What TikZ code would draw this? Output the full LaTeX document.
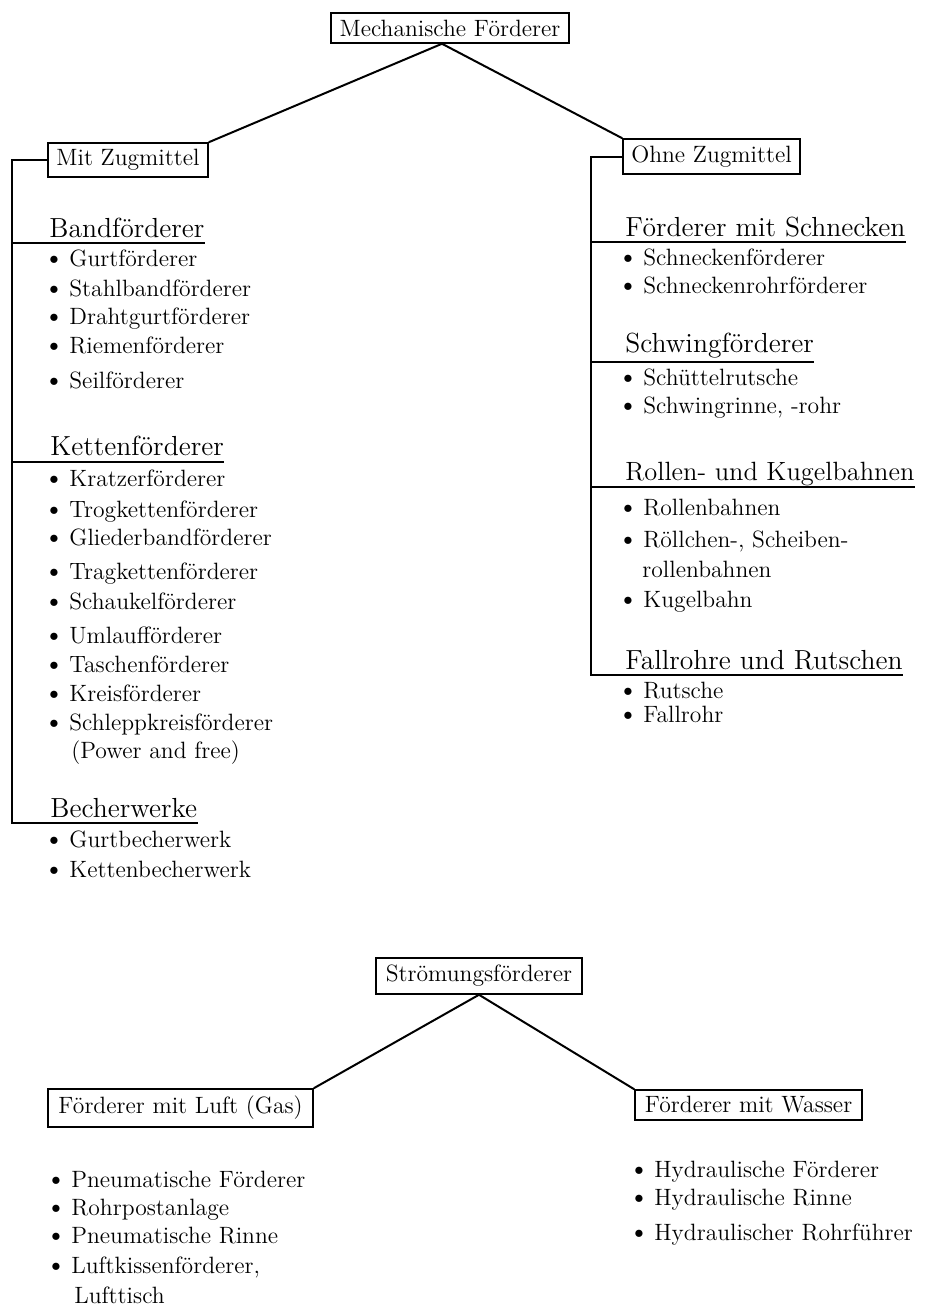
\documentclass[tikz,border=0pt]{standalone}
\usepackage{fontspec}
\usetikzlibrary{calc}
\newcommand{\blt}{\makebox[10pt][l]{\raisebox{0.9pt}{\scalebox{0.78}{$\bullet$}}}}
\begin{document}
\begin{tikzpicture}[x=0.5pt,y=-0.5pt,
  box/.style={draw,line width=0.75pt,inner sep=0pt,font=\fontsize{11.8}{13}\selectfont},
  conn/.style={line width=1pt},
  head/.style={anchor=base west,inner sep=0pt,font=\fontsize{13.8}{16}\selectfont},
  itm/.style={anchor=base west,inner sep=0pt,font=\fontsize{11.8}{13}\selectfont},
]
\useasboundingbox (0,0) rectangle (925,1306);

% ---------- Mechanische Foerderer ----------
\node[box,minimum width=119pt,minimum height=15pt] (mech) at (450,28) {Mechanische Förderer};
\node[box,minimum width=80pt,minimum height=17pt] (mit) at (128,160) {Mit Zugmittel};
\node[box,minimum width=88.5pt,minimum height=17.5pt] (ohne) at (711.5,156.5) {Ohne Zugmittel};
\coordinate (apexM) at ([xshift=-4pt]mech.south);
\draw[conn] (mit.north east) -- (apexM) -- (ohne.north west);

% left column
\node[head] (hband) at (49,237) {Bandförderer};
\coordinate (uband) at (12,243);
\node[itm] (l1) at (49,266) {\blt Gurtförderer};
\node[itm] (l2) at (49,296) {\blt Stahlbandförderer};
\node[itm] (l3) at (49,324) {\blt Drahtgurtförderer};
\node[itm] (l4) at (49,353) {\blt Riemenförderer};
\node[itm] (l5) at (49,388) {\blt Seilförderer};

\node[head] (hkette) at (50,455) {Kettenförderer};
\coordinate (ukette) at (12,462);
\node[itm] (k1) at (49,486) {\blt Kratzerförderer};
\node[itm] (k2) at (49,517) {\blt Trogkettenförderer};
\node[itm] (k3) at (49,545) {\blt Gliederbandförderer};
\node[itm] (k4) at (49,579) {\blt Tragkettenförderer};
\node[itm] (k5) at (49,609) {\blt Schaukelförderer};
\node[itm] (k6) at (49,643) {\blt Umlaufförderer};
\node[itm] (k7) at (49,672) {\blt Taschenförderer};
\node[itm] (k8) at (49,701) {\blt Kreisförderer};
\node[itm] (k9) at (49,730) {\blt Schleppkreisförderer};
\node[itm] (k9b) at (71,758) {(Power and free)};

\node[head] (hbecher) at (50,817) {Becherwerke};
\coordinate (ubecher) at (12,823);
\node[itm] (b1) at (49,847) {\blt Gurtbecherwerk};
\node[itm] (b2) at (49,877) {\blt Kettenbecherwerk};

\draw[conn] (mit.west) -| (ubecher) -- (ubecher -| hbecher.east);
\draw[conn] (uband) -- (uband -| hband.east);
\draw[conn] (ukette) -- (ukette -| hkette.east);

% right column
\node[head] (hschn) at (625,236) {Förderer mit Schnecken};
\coordinate (uschn) at (591,242);
\node[itm] (r1) at (623,265) {\blt Schneckenförderer};
\node[itm] (r2) at (623,293) {\blt Schneckenrohrförderer};

\node[head] (hschw) at (625,352) {Schwingförderer};
\coordinate (uschw) at (591,362);
\node[itm] (s1) at (623,385) {\blt Schüttelrutsche};
\node[itm] (s2) at (623,413) {\blt Schwingrinne, -rohr};

\node[head,font=\fontsize{13.2}{16}\selectfont] (hroll) at (625,480) {Rollen- und Kugelbahnen};
\coordinate (uroll) at (591,487);
\node[itm] (o1) at (623,515) {\blt Rollenbahnen};
\node[itm] (o2) at (623,547) {\blt Röllchen-, Scheiben-};
\node[itm] (o2b) at (642,577) {rollenbahnen};
\node[itm] (o3) at (623,607) {\blt Kugelbahn};

\node[head] (hfall) at (625,669) {Fallrohre und Rutschen};
\coordinate (ufall) at (591,675);
\node[itm] (f1) at (623,698) {\blt Rutsche};
\node[itm] (f2) at (623,722) {\blt Fallrohr};

\draw[conn] (ohne.west) -| (ufall) -- (ufall -| hfall.east);
\draw[conn] (uschn) -- (uschn -| hschn.east);
\draw[conn] (uschw) -- (uschw -| hschw.east);
\draw[conn] (uroll) -- (uroll -| hroll.east);

% ---------- Stroemungsfoerderer ----------
\node[box,minimum width=103pt,minimum height=18pt] (strom) at (479,976) {Strömungsförderer};
\node[box,minimum width=132.5pt,minimum height=19pt] (luft) at (180.5,1108) {Förderer mit Luft (Gas)};
\node[box,minimum width=113.5pt,minimum height=15pt] (wasser) at (748.5,1105) {Förderer mit Wasser};
\draw[conn] (luft.north east) -- (strom.south) -- (wasser.north west);

\node[itm] (p1) at (51,1187) {\blt Pneumatische Förderer};
\node[itm] (p2) at (51,1215) {\blt Rohrpostanlage};
\node[itm] (p3) at (51,1243) {\blt Pneumatische Rinne};
\node[itm] (p4) at (51,1273) {\blt Luftkissenförderer,};
\node[itm] (p4b) at (74,1303) {Lufttisch};

\node[itm] (h1) at (634,1177) {\blt Hydraulische Förderer};
\node[itm] (h2) at (634,1205) {\blt Hydraulische Rinne};
\node[itm] (h3) at (634,1240) {\blt Hydraulischer Rohrführer};
\end{tikzpicture}
\end{document}
